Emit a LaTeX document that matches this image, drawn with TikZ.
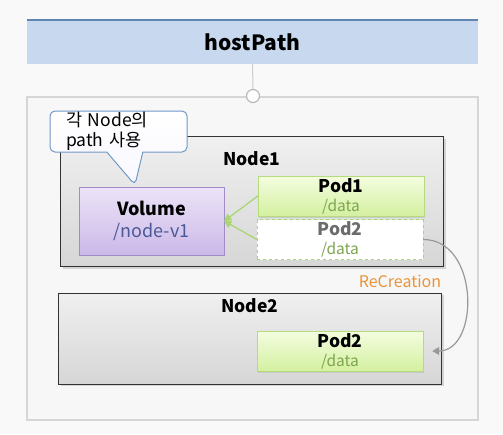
\documentclass[tikz,border=0pt]{standalone}
\usepackage{fontspec}
\setmainfont{Noto Sans CJK KR}
\usetikzlibrary{positioning, shapes.callouts, arrows.meta, shadows, calc}
\definecolor{pagebg}{HTML}{F9F9F9}
\definecolor{hdrfill}{HTML}{C8D8EE}
\definecolor{hdrline}{HTML}{5F86B3}
\definecolor{framegray}{HTML}{D6D6D6}
\definecolor{bubbleline}{HTML}{6F99C7}
\definecolor{volline}{HTML}{A08CC8}
\definecolor{voltop}{HTML}{ECE4F7}
\definecolor{volbot}{HTML}{CBB8E8}
\definecolor{voltext}{HTML}{4B5A96}
\definecolor{podtop}{HTML}{F4FDE0}
\definecolor{podbot}{HTML}{D4F0A0}
\definecolor{podline}{HTML}{B5DC7C}
\definecolor{datagreen}{HTML}{7EA64F}
\definecolor{arrgreen}{HTML}{A9D672}
\definecolor{recreate}{HTML}{E8943A}

\begin{document}
\begin{tikzpicture}[x=1pt, y=-1pt,
      hdr/.style={fill=hdrfill, minimum width=451pt, minimum height=44pt, font=\fontsize{21}{24}\selectfont\bfseries},
      frame/.style={draw=framegray, line width=2.5pt, fill=white!97!black, minimum width=451pt, minimum height=323pt},
      ring/.style={circle, draw=gray!55, line width=1.2pt, fill=white, minimum size=13pt, inner sep=0pt},
      bubble/.style={rectangle callout, draw=bubbleline, line width=1pt, rounded corners=5pt, top color=white, bottom color=blue!3,
        minimum width=137pt, minimum height=41pt, text width=105pt, inner xsep=16pt, inner ysep=0pt, align=left,
        font=\fontsize{17.5}{20}\selectfont, callout pointer width=36pt},
      hostbox/.style={draw=black!80, top color=gray!12, bottom color=gray!32, drop shadow={opacity=0.3, shadow xshift=2pt, shadow yshift=-2pt},
        minimum width=383pt},
      boxtitle/.style={font=\fontsize{17.5}{20}\selectfont\bfseries},
      volbox/.style={draw=volline, top color=voltop, bottom color=volbot, minimum width=145pt, minimum height=68pt, align=center,
        font=\fontsize{18}{22}\selectfont},
      podbox/.style={draw=podline, top color=podtop, bottom color=podbot, minimum width=166pt, minimum height=40pt, align=center,
        inner sep=0pt, font=\fontsize{17.5}{19}\selectfont, drop shadow={opacity=0.2, shadow xshift=1pt, shadow yshift=-1.5pt}},
      oldpod/.style={draw=arrgreen, dashed, fill=white, minimum width=166pt, minimum height=40pt, align=center,
        inner sep=0pt, font=\fontsize{17.5}{19}\selectfont},
      greenarr/.style={-{Triangle[length=7pt, width=8pt]}, draw=arrgreen, line width=1.3pt},
      grayarr/.style={-{Triangle[length=7pt, width=8pt]}, draw=gray!80, line width=1.2pt}]
      \fill[pagebg] (0,0) rectangle (503,434);
      \useasboundingbox (0,0) rectangle (503,434);
      \node[frame] (host) at (252.5,258.5) {};
      \node[hdr] (path) at (252.5,42) {hostPath};
      \draw[hdrline, line width=2pt] (path.north west) -- (path.north east);
      \node[ring] (knob) at (253,96) {};
      \draw[gray!40, line width=1pt] (path.south) -- (knob.north);
      \node[hostbox, minimum height=130pt, label={[anchor=north, yshift=-12pt, boxtitle]north:Node1}] (node1) at (252,201.5) {};
      \node[hostbox, minimum height=91pt, label={[anchor=north, yshift=-2pt, boxtitle]north:Node2}] (node2) at (250,338.5) {};
      \node[bubble, callout absolute pointer={(135,185)}] (note) at (118.5,131.5) {각 Node의\\path 사용};
      \node[volbox] (vol) at (151.5,221) {\textbf{Volume}\\{\color{voltext}/node-v1}};
      \node[podbox] (pod1) at (341,196) {\textbf{Pod1}\\{\color{datagreen}\fontsize{15.5}{17}\selectfont/data}};
      \node[oldpod] (pod2) at (340,239.5) {{\color{gray!85!black}\textbf{Pod2}}\\{\color{datagreen}\fontsize{15.5}{17}\selectfont/data}};
      \node[podbox] (pod2new) at (340,351) {\textbf{Pod2}\\{\color{datagreen}\fontsize{15.5}{17}\selectfont/data}};
      \draw[greenarr] (pod1.west) -- (vol.east);
      \draw[greenarr] (pod2.west) -- (vol.east);
      \draw[grayarr, shorten >=9pt] (pod2.east) to[out=0, in=0, looseness=1.3] (pod2new.east);
      \node[text=recreate, font=\fontsize{16}{18}\selectfont] (again) at (400,281) {ReCreation};
    \end{tikzpicture}
\end{document}
